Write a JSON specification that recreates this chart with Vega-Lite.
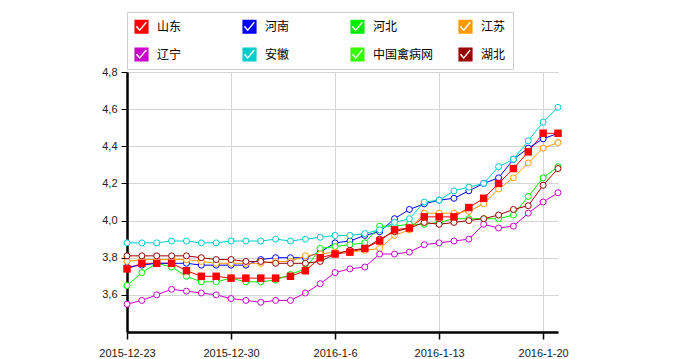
{
  "$schema": "https://vega.github.io/schema/vega-lite/v6.json",
  "width": 431,
  "height": 260,
  "autosize": {"type": "none"},
  "padding": {"left": 127, "top": 72, "right": 121, "bottom": 27},
  "background": "white",
  "config": {
    "view": {"stroke": null},
    "axis": {"labelFont": "Liberation Sans", "labelFontSize": 11, "labelColor": "#222", "gridColor": "#d4d4d4", "gridWidth": 1, "domainColor": "#000", "domainWidth": 2.5, "tickColor": "#000", "title": null}
  },
  "data": {
    "values": [
      {"d": "2015-12-23", "山东": 3.74, "河南": 3.75, "河北": 3.65, "江苏": 3.78, "辽宁": 3.55, "安徽": 3.88, "湖北": 3.81},
      {"d": "2015-12-24", "山东": 3.77, "河南": 3.76, "河北": 3.72, "江苏": 3.79, "辽宁": 3.57, "安徽": 3.88, "湖北": 3.81},
      {"d": "2015-12-25", "山东": 3.77, "河南": 3.77, "河北": 3.77, "江苏": 3.79, "辽宁": 3.60, "安徽": 3.88, "湖北": 3.81},
      {"d": "2015-12-26", "山东": 3.77, "河南": 3.77, "河北": 3.75, "江苏": 3.79, "辽宁": 3.63, "安徽": 3.89, "湖北": 3.81},
      {"d": "2015-12-27", "山东": 3.73, "河南": 3.77, "河北": 3.70, "江苏": 3.79, "辽宁": 3.62, "安徽": 3.89, "湖北": 3.81},
      {"d": "2015-12-28", "山东": 3.70, "河南": 3.76, "河北": 3.67, "江苏": 3.78, "辽宁": 3.61, "安徽": 3.88, "湖北": 3.80},
      {"d": "2015-12-29", "山东": 3.70, "河南": 3.76, "河北": 3.67, "江苏": 3.77, "辽宁": 3.60, "安徽": 3.88, "湖北": 3.79},
      {"d": "2015-12-30", "山东": 3.69, "河南": 3.76, "河北": 3.69, "江苏": 3.77, "辽宁": 3.58, "安徽": 3.89, "湖北": 3.79},
      {"d": "2015-12-31", "山东": 3.69, "河南": 3.76, "河北": 3.67, "江苏": 3.77, "辽宁": 3.57, "安徽": 3.89, "湖北": 3.78},
      {"d": "2016-01-01", "山东": 3.69, "河南": 3.79, "河北": 3.67, "江苏": 3.77, "辽宁": 3.56, "安徽": 3.89, "湖北": 3.78},
      {"d": "2016-01-02", "山东": 3.69, "河南": 3.80, "河北": 3.68, "江苏": 3.78, "辽宁": 3.57, "安徽": 3.90, "湖北": 3.77},
      {"d": "2016-01-03", "山东": 3.70, "河南": 3.80, "河北": 3.71, "江苏": 3.78, "辽宁": 3.57, "安徽": 3.89, "湖北": 3.77},
      {"d": "2016-01-04", "山东": 3.73, "河南": 3.80, "河北": 3.74, "江苏": 3.81, "辽宁": 3.61, "安徽": 3.90, "湖北": 3.77},
      {"d": "2016-01-05", "山东": 3.80, "河南": 3.83, "河北": 3.85, "江苏": 3.82, "辽宁": 3.66, "安徽": 3.91, "湖北": 3.78},
      {"d": "2016-01-06", "山东": 3.82, "河南": 3.88, "河北": 3.86, "江苏": 3.83, "辽宁": 3.72, "安徽": 3.92, "湖北": 3.82},
      {"d": "2016-01-07", "山东": 3.83, "河南": 3.89, "河北": 3.87, "江苏": 3.83, "辽宁": 3.74, "安徽": 3.92, "湖北": 3.84},
      {"d": "2016-01-08", "山东": 3.85, "河南": 3.92, "河北": 3.88, "江苏": 3.84, "辽宁": 3.75, "安徽": 3.93, "湖北": 3.85},
      {"d": "2016-01-09", "山东": 3.89, "河南": 3.94, "河北": 3.97, "江苏": 3.85, "辽宁": 3.82, "安徽": 3.95, "湖北": 3.90},
      {"d": "2016-01-10", "山东": 3.95, "河南": 4.01, "河北": 3.97, "江苏": 3.92, "辽宁": 3.82, "安徽": 3.99, "湖北": 3.94},
      {"d": "2016-01-11", "山东": 3.96, "河南": 4.06, "河北": 3.98, "江苏": 3.95, "辽宁": 3.83, "安徽": 4.01, "湖北": 3.96},
      {"d": "2016-01-12", "山东": 4.02, "河南": 4.09, "河北": 3.98, "江苏": 4.04, "辽宁": 3.87, "安徽": 4.10, "湖北": 3.99},
      {"d": "2016-01-13", "山东": 4.02, "河南": 4.11, "河北": 3.99, "江苏": 4.04, "辽宁": 3.88, "安徽": 4.11, "湖北": 3.98},
      {"d": "2016-01-14", "山东": 4.02, "河南": 4.12, "河北": 4.01, "江苏": 4.04, "辽宁": 3.89, "安徽": 4.16, "湖北": 3.99},
      {"d": "2016-01-15", "山东": 4.07, "河南": 4.16, "河北": 4.01, "江苏": 4.05, "辽宁": 3.90, "安徽": 4.18, "湖北": 4.00},
      {"d": "2016-01-16", "山东": 4.12, "河南": 4.20, "河北": 4.01, "江苏": 4.09, "辽宁": 3.98, "安徽": 4.20, "湖北": 4.01},
      {"d": "2016-01-17", "山东": 4.20, "河南": 4.23, "河北": 4.01, "江苏": 4.17, "辽宁": 3.96, "安徽": 4.29, "湖北": 4.03},
      {"d": "2016-01-18", "山东": 4.28, "河南": 4.33, "河北": 4.03, "江苏": 4.23, "辽宁": 3.97, "安徽": 4.33, "湖北": 4.06},
      {"d": "2016-01-19", "山东": 4.37, "河南": 4.39, "河北": 4.13, "江苏": 4.31, "辽宁": 4.04, "安徽": 4.43, "湖北": 4.08},
      {"d": "2016-01-20", "山东": 4.47, "河南": 4.44, "河北": 4.23, "江苏": 4.39, "辽宁": 4.10, "安徽": 4.53, "湖北": 4.19},
      {"d": "2016-01-21", "山东": 4.47, "河南": 4.47, "河北": 4.29, "江苏": 4.42, "辽宁": 4.15, "安徽": 4.61, "湖北": 4.28}
    ]
  },
  "transform": [
    {"fold": ["山东", "河南", "河北", "江苏", "辽宁", "安徽", "湖北"], "as": ["p", "v"]}
  ],
  "encoding": {
    "x": {
      "field": "d", "type": "temporal",
      "scale": {"type": "utc", "domain": [{"year": 2015, "month": 12, "date": 23, "utc": true}, {"year": 2016, "month": 1, "date": 21, "utc": true}]},
      "axis": {
        "values": [
          {"year": 2015, "month": 12, "date": 23, "utc": true},
          {"year": 2015, "month": 12, "date": 30, "utc": true},
          {"year": 2016, "month": 1, "date": 6, "utc": true},
          {"year": 2016, "month": 1, "date": 13, "utc": true},
          {"year": 2016, "month": 1, "date": 20, "utc": true}
        ],
        "labelExpr": "utcFormat(datum.value, '%Y-%-m-%-d')",
        "grid": true, "tickSize": 7, "tickWidth": 1.5, "labelPadding": 8, "labelOverlap": false, "labelFlush": false
      }
    },
    "y": {
      "field": "v", "type": "quantitative",
      "scale": {"domain": [3.4, 4.8], "nice": false, "zero": false},
      "axis": {"values": [3.6, 3.8, 4.0, 4.2, 4.4, 4.6, 4.8], "labelExpr": "replace(format(datum.value, '.1f'), '.', ',')", "grid": true, "tickSize": 6, "tickWidth": 1, "labelPadding": 4}
    },
    "color": {
      "field": "p", "type": "nominal",
      "scale": {
        "domain": ["山东", "河南", "河北", "江苏", "辽宁", "安徽", "中国禽病网", "湖北"],
        "range": ["#ff0000", "#0000ff", "#00ee00", "#ff9900", "#cc00cc", "#00cccc", "#33ff00", "#990000"]
      },
      "legend": {
        "orient": "none", "legendX": 0, "legendY": -60, "title": null, "direction": "horizontal",
        "columns": 4, "gridAlign": "all", "columnPadding": 24, "rowPadding": 13,
        "padding": 7, "strokeColor": "#cccccc", "fillColor": "white",
        "symbolType": "M-1,-1L1,-1L1,1L-1,1ZM-0.8,0.05L-0.25,0.65L0.75,-0.55L0.6,-0.7L-0.25,0.35L-0.62,-0.12Z",
        "symbolSize": 200, "symbolStrokeWidth": 0, "labelOffset": 8,
        "labelFont": "Noto Sans CJK SC", "labelFontSize": 12, "labelColor": "#000",
        "encode": {"symbols": {"update": {"fill": {"scale": "color", "field": "value"}, "stroke": {"value": "transparent"}, "opacity": {"value": 1}}}}
      }
    }
  },
  "layer": [
    {"mark": {"type": "line", "strokeWidth": 1}},
    {"transform": [{"filter": "datum.p !== '山东'"}], "mark": {"type": "point", "shape": "circle", "filled": false, "fill": "white", "fillOpacity": 1, "opacity": 1, "size": 36, "strokeWidth": 1}},
    {"transform": [{"filter": "datum.p === '山东'"}], "mark": {"type": "point", "shape": "square", "filled": true, "opacity": 1, "size": 56}}
  ]
}
